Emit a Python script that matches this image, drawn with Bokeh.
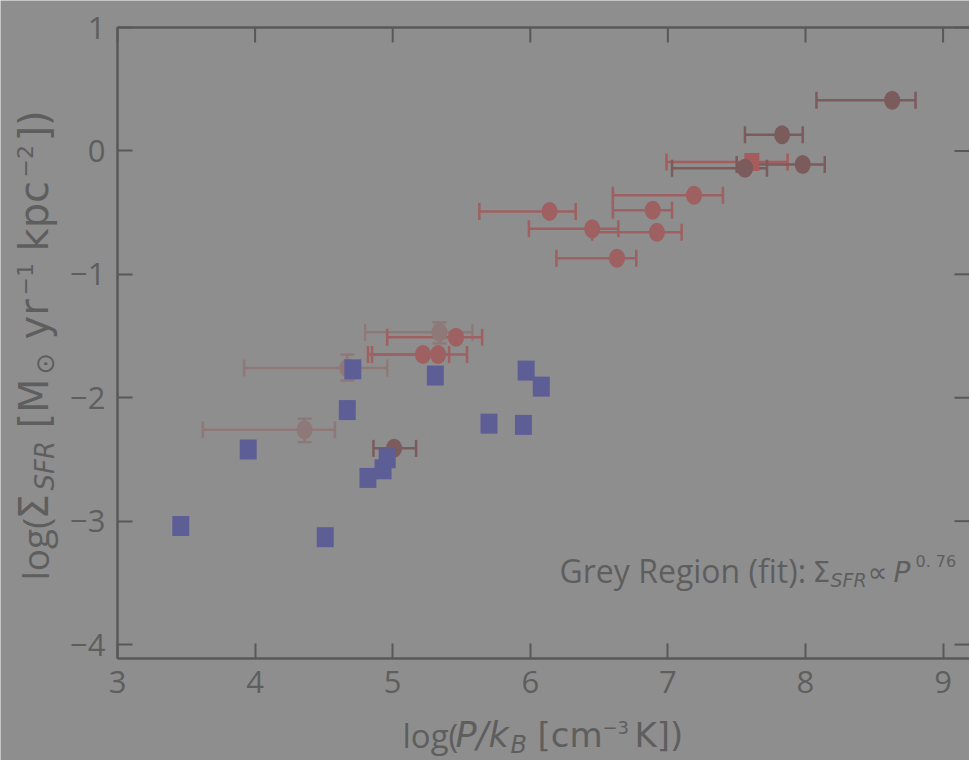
import math
from bokeh.plotting import figure
from bokeh.models import (ColumnDataSource, Whisker, TeeHead, LinearAxis,
                          FixedTicker, Label, Range1d)
from bokeh.embed import file_html
from bokeh.resources import INLINE

# ---------------- data ----------------
# dark red circles with horizontal error bars
dark_x = [8.63, 7.83, 7.56, 7.98, 5.01]
dark_y = [0.41, 0.13, -0.14, -0.11, -2.41]
dark_xlo = [8.08, 7.56, 7.03, 7.50, 4.86]
dark_xhi = [8.80, 7.98, 7.72, 8.14, 5.17]

# red circles with horizontal error bars
red_x = [7.19, 6.89, 6.92, 6.63, 6.14, 6.45, 5.46, 5.22, 5.33]
red_y = [-0.36, -0.48, -0.66, -0.87, -0.49, -0.63, -1.51, -1.65, -1.65]
red_xlo = [6.60, 6.60, 6.45, 6.19, 5.63, 5.99, 4.96, 4.82, 4.85]
red_xhi = [7.40, 7.03, 7.10, 6.77, 6.33, 6.64, 5.65, 5.41, 5.54]

# red square with horizontal error bar
rsq_x = [7.61]
rsq_y = [-0.09]
rsq_xlo = [6.99]
rsq_xhi = [7.87]

# pale circles with horizontal and vertical error bars
pale_x = [5.34, 4.67, 4.36]
pale_y = [-1.47, -1.76, -2.26]
pale_xlo = [4.80, 3.92, 3.62]
pale_xhi = [5.58, 4.96, 4.58]
pale_ylo = [-1.56, -1.86, -2.36]
pale_yhi = [-1.39, -1.65, -2.17]

# blue squares
blue_x = [3.46, 3.95, 4.51, 4.67, 4.71, 4.82, 4.93, 4.96, 5.31, 5.70, 5.95, 5.97, 6.08]
blue_y = [-3.04, -2.42, -3.13, -2.10, -1.77, -2.65, -2.58, -2.49, -1.82, -2.21, -2.22, -1.78, -1.91]

x_ticks = [3, 4, 5, 6, 7, 8, 9]
x_tick_labels = ["3", "4", "5", "6", "7", "8", "9"]
y_ticks = [-4, -3, -2, -1, 0, 1]
y_tick_labels = ["\u22124", "\u22123", "\u22122", "\u22121", "0", "1"]

# ---------------- style ----------------
BG = "#8e8e8e"
FG = "#5e5e5e"
SP = "#585858"
C_DARK = "#7b5b5b"
C_RED = "#9e6060"
C_RSQ = "#a65c5c"
C_PALE = "#8f7878"
C_BLUE = "#5e5e96"

W, H = 969, 760
# axes box in canvas pixels and its data limits
AL, AR, AT, AB = 117, 969, 27, 658
X0, X1 = 3.0, 9.192
Y0, Y1 = -4.113, 1.0
KX = (X1 - X0) / (AR - AL)      # data units per pixel
KY = (Y1 - Y0) / (AB - AT)
# the plotting frame covers the whole canvas
XA, XB = X0 - AL * KX, X0 + (W - AL) * KX
YT = Y1 + AT * KY
YB = YT - H * KY
TICK = 15

p = figure(width=W, height=H, output_backend="svg", toolbar_location=None,
           x_range=Range1d(XA, XB), y_range=Range1d(YB, YT),
           min_border=0,
           background_fill_color=BG, border_fill_color=BG)
p.outline_line_color = None
p.grid.visible = False
p.xaxis.visible = False
p.yaxis.visible = False


def style_axis(ax, ticks, labels):
    ax.ticker = FixedTicker(ticks=ticks)
    ax.major_label_overrides = {t: l for t, l in zip(ticks, labels)}
    ax.major_tick_in = TICK
    ax.major_tick_out = 0
    ax.major_tick_line_width = 2
    ax.major_tick_line_color = SP
    ax.minor_tick_line_color = None
    ax.axis_line_width = 2.5
    ax.axis_line_color = SP
    ax.major_label_text_font = "Open Sans"
    ax.major_label_text_font_size = "31px"
    ax.major_label_text_color = FG
    ax.major_label_standoff = 12


bottom = LinearAxis(fixed_location=Y0, bounds=(X0, X1))
left = LinearAxis(fixed_location=X0, bounds=(Y0, Y1))
style_axis(bottom, x_ticks, x_tick_labels)
style_axis(left, y_ticks, y_tick_labels)
p.add_layout(bottom, "below")
p.add_layout(left, "left")

# top spine and inward ticks on the top and right sides
p.segment(x0=[X0], y0=[Y1], x1=[X1], y1=[Y1], line_color=SP, line_width=2.5)
p.segment(x0=x_ticks, y0=[Y1] * len(x_ticks), x1=x_ticks,
          y1=[Y1 - TICK * KY] * len(x_ticks), line_color=SP, line_width=2)
p.segment(x0=[X1] * len(y_ticks), y0=y_ticks, x1=[X1 - TICK * KX] * len(y_ticks),
          y1=y_ticks, line_color=SP, line_width=2)


def xerr(ys, lo, hi, color):
    src = ColumnDataSource(dict(y=ys, lo=lo, hi=hi))
    w = Whisker(source=src, base="y", lower="lo", upper="hi", dimension="width",
                line_color=color, line_width=2.5,
                lower_head=TeeHead(size=17, line_color=color, line_width=2.5),
                upper_head=TeeHead(size=17, line_color=color, line_width=2.5))
    p.add_layout(w)


def yerr(xs, lo, hi, color):
    src = ColumnDataSource(dict(x=xs, lo=lo, hi=hi))
    w = Whisker(source=src, base="x", lower="lo", upper="hi", dimension="height",
                line_color=color, line_width=2.5,
                lower_head=TeeHead(size=14, line_color=color, line_width=2.5),
                upper_head=TeeHead(size=14, line_color=color, line_width=2.5))
    p.add_layout(w)


xerr(pale_y, pale_xlo, pale_xhi, C_PALE)
yerr(pale_x, pale_ylo, pale_yhi, C_PALE)
xerr(rsq_y, rsq_xlo, rsq_xhi, C_RSQ)
xerr(red_y, red_xlo, red_xhi, C_RED)
xerr(dark_y, dark_xlo, dark_xhi, C_DARK)

p.rect(x=rsq_x, y=rsq_y, width=15, height=18, width_units="screen",
       height_units="screen", fill_color=C_RSQ, line_color=None)
p.ellipse(x=pale_x, y=pale_y, width=16, height=19, width_units="screen",
          height_units="screen", fill_color=C_PALE, line_color=None)
p.ellipse(x=red_x, y=red_y, width=16, height=19, width_units="screen",
          height_units="screen", fill_color=C_RED, line_color=None)
p.ellipse(x=dark_x, y=dark_y, width=16, height=19, width_units="screen",
          height_units="screen", fill_color=C_DARK, line_color=None)
p.rect(x=blue_x, y=blue_y, width=17, height=20, width_units="screen",
       height_units="screen", fill_color=C_BLUE, line_color=None)

BASE_SHIFT = 0.37   # label anchor lies this many font sizes below the glyph baseline


def txt(s, px, py, size, font="DejaVu Sans", style="normal", angle=0.0):
    # (px, py): glyph baseline start, canvas pixels from the top-left corner
    if angle:
        px -= BASE_SHIFT * size
    else:
        py -= BASE_SHIFT * size
    p.add_layout(Label(x=px, y=H - py, x_units="screen", y_units="screen",
                       text=s, text_font=font,
                       text_font_size=f"{size}px", text_font_style=style,
                       text_color=FG, text_align="left",
                       text_baseline="alphabetic", angle=angle))


# x-axis label: log(P/k_B [cm^-3 K])
txt("log(", 402, 747, 33, "Open Sans")
txt("P/k", 455, 747, 35, style="italic")
txt("B", 510, 753, 24, style="italic")
txt("[cm", 537, 747, 34)
txt("\u22123", 602, 734, 18)
txt("K])", 634, 747, 34)

# y-axis label: log(Sigma_SFR [M_sun yr^-1 kpc^-2])
A = math.pi / 2
txt("log(", 48, 580, 37, "Open Sans", angle=A)
txt("\u03a3", 48, 519, 40, angle=A)
txt("SFR", 54, 490, 26, style="italic", angle=A)
txt("[M", 48, 428, 40, angle=A)
txt("\u2299", 54, 374, 26, angle=A)
txt("yr", 48, 339, 40, angle=A)
txt("\u22121", 33, 295, 22, angle=A)
txt("kpc", 48, 251, 40, angle=A)
txt("\u22122", 33, 177, 22, angle=A)
txt("])", 48, 141, 40, angle=A)

# annotation
txt("Grey Region (fit):", 559, 582, 32, "Open Sans")
txt("\u03a3", 812, 582, 28)
txt("SFR", 830, 587, 19, style="italic")
txt("\u221d", 867, 582, 28)
txt("P", 893, 582, 28, style="italic")
txt("0. 76", 915, 567, 16)

open("out.html", "w").write(file_html(p, INLINE))
